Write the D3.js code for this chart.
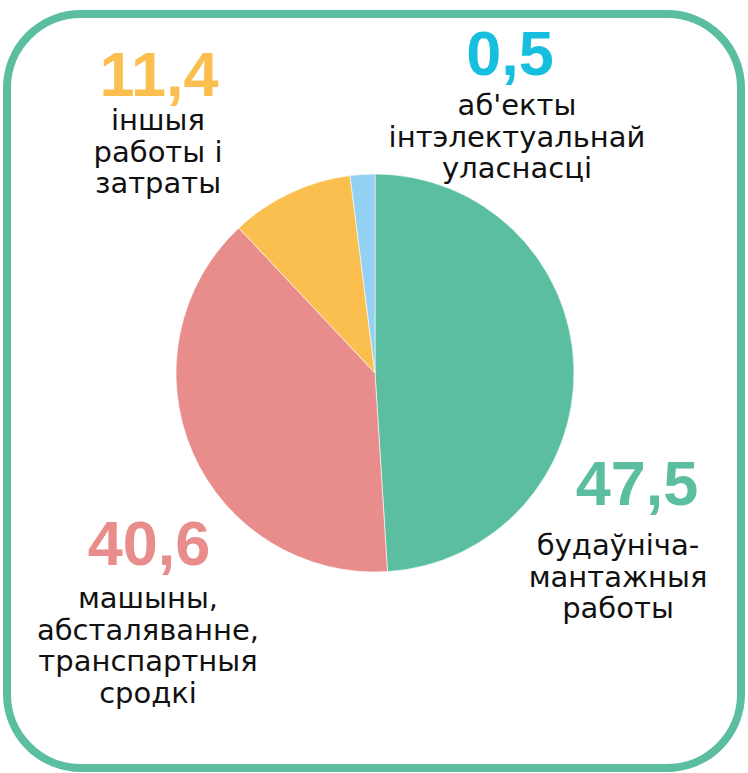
<!DOCTYPE html>
<html lang="be">
<head>
  <meta charset="UTF-8">
  <title>Структура інвестыцый</title>
  <script src="https://d3js.org/d3.v7.min.js"></script>
  <style>
    body { margin: 0; background: #fff; }
    svg { display: block; }
    .num { font-family: "Liberation Sans", Arial, sans-serif; font-weight: bold; }
    .lbl { font-family: "DejaVu Sans", sans-serif; fill: #111; }
  </style>
</head>
<body>
<svg width="748" height="773"></svg>
<script>
// Categories (clockwise from 12 o'clock)
const categories = ["будаўніча-мантажныя работы", "машыны, абсталяванне, транспартныя сродкі", "іншыя работы і затраты", "аб'екты інтэлектуальнай уласнасці"];
// Printed values
const valueLabels = ["47,5", "40,6", "11,4", "0,5"];
// Slice shares as drawn in the picture (%)
const sliceShares = [49.0, 39.0, 10.0, 2.0];
// Label lines
const labelLines = [
  ["будаўніча-", "мантажныя", "работы"],
  ["машыны,", "абсталяванне,", "транспартныя", "сродкі"],
  ["іншыя", "работы і", "затраты"],
  ["аб'екты", "інтэлектуальнай", "уласнасці"]
];

const sliceColors = ["#5bbea0", "#e98c8c", "#fbbf50", "#94d0f2"];
const numColors = ["#5bbea0", "#e98c8c", "#fbbf50", "#17bfdf"];

const width = 748, height = 773;
const svg = d3.select("svg");

// rounded frame
svg.append("rect")
  .attr("x", 7).attr("y", 14)
  .attr("width", 734).attr("height", 754)
  .attr("rx", 74).attr("ry", 74)
  .attr("fill", "none")
  .attr("stroke", "#5bbea0")
  .attr("stroke-width", 8);

// pie
const cx = 375, cy = 373, radius = 199;
const pie = d3.pie().sort(null).value(d => d);
const arc = d3.arc().innerRadius(0).outerRadius(radius);

svg.append("g")
  .attr("transform", `translate(${cx},${cy})`)
  .selectAll("path")
  .data(pie(sliceShares))
  .join("path")
  .attr("d", arc)
  .attr("fill", (d, i) => sliceColors[i])
  .attr("stroke", "#fff")
  .attr("stroke-width", 0.6);

// label placement: number center/baseline, text center / first baseline
const labelPos = [
  { x: 637, numY: 505, textX: 618, textY: 555 },
  { x: 149, numY: 565, textX: 148, textY: 608 },
  { x: 159, numY: 96, textX: 158, textY: 130 },
  { x: 510, numY: 75, textX: 517, textY: 115 }
];
const lineH = 31.7;

labelPos.forEach((p, i) => {
  svg.append("text")
    .attr("class", "num")
    .attr("x", p.x).attr("y", p.numY)
    .attr("text-anchor", "middle")
    .attr("font-size", 63)
    .attr("fill", numColors[i])
    .text(valueLabels[i]);

  svg.append("text")
    .attr("class", "lbl")
    .attr("text-anchor", "middle")
    .attr("font-size", 29)
    .selectAll("tspan")
    .data(labelLines[i])
    .join("tspan")
    .attr("x", p.textX)
    .attr("y", (d, j) => p.textY + j * lineH)
    .text(d => d);
});
</script>
</body>
</html>
